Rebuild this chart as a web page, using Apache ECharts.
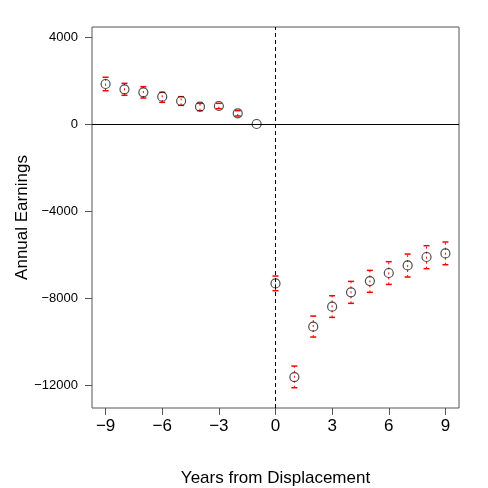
<!DOCTYPE html>
<html>
  <head>
    <meta charset="utf-8" />
    <title>Event study</title>
    <script src="https://cdn.jsdelivr.net/npm/echarts/dist/echarts.min.js"></script>
    <style>
      html, body { margin: 0; padding: 0; background: #fff; }
    </style>
  </head>
  <body>
    <div id="main" style="width: 488px; height: 488px;"></div>

    <script type="text/javascript">
      var myChart = echarts.init(document.getElementById('main'));

      // years relative to displacement
      const years = [-9, -8, -7, -6, -5, -4, -3, -2, -1, 0, 1, 2, 3, 4, 5, 6, 7, 8, 9];
      // point estimates
      const estimates = [1840, 1595, 1457, 1257, 1057, 797, 828, 490, 0,
        -7330, -11635, -9320, -8400, -7740, -7220, -6850, -6500, -6115, -5950];
      // confidence interval bounds
      const upper = [2150, 1870, 1717, 1457, 1257, 950, 950, 613, 0,
        -6990, -11130, -8830, -7895, -7235, -6730, -6330, -5980, -5595, -5425];
      const lower = [1530, 1320, 1195, 997, 858, 613, 705, 368, 0,
        -7665, -12125, -9795, -8890, -8245, -7740, -7375, -7035, -6650, -6470];

      const xTicks = [-9, -6, -3, 0, 3, 6, 9];
      const yTicks = [-12000, -8000, -4000, 0, 4000];

      const font = '"Liberation Sans", Arial, Helvetica, sans-serif';
      const minus = v => String(v).replace('-', '\u2212');

      const ciData = years.map((x, i) => [x, lower[i], upper[i]]);
      const pointData = years.map((x, i) => [x, estimates[i]]);

      function renderBar(params, api) {
        const x = api.value(0);
        const lo = api.value(1);
        const hi = api.value(2);
        if (lo === hi) return null;
        const pLo = api.coord([x, lo]);
        const pHi = api.coord([x, hi]);
        const w = 3;
        const red = { stroke: '#ff0000', lineWidth: 1.5 };
        return {
          type: 'group',
          children: [
            { type: 'line', shape: { x1: pLo[0], y1: pLo[1], x2: pHi[0], y2: pHi[1] },
              style: { stroke: '#ff0000', lineWidth: 1, lineDash: [2, 3] } },
            { type: 'line', shape: { x1: pLo[0] - w, y1: pLo[1], x2: pLo[0] + w, y2: pLo[1] }, style: red },
            { type: 'line', shape: { x1: pHi[0] - w, y1: pHi[1], x2: pHi[0] + w, y2: pHi[1] }, style: red }
          ]
        };
      }

      const option = {
        animation: false,
        backgroundColor: '#fff',
        textStyle: { fontFamily: font },
        grid: {
          left: 92, right: 29, top: 27, bottom: 80,
          outerBoundsMode: 'none', containLabel: false,
          show: true, borderColor: '#555', borderWidth: 1, backgroundColor: 'transparent'
        },
        xAxis: {
          type: 'value',
          min: -9.72, max: 9.72,
          name: 'Years from Displacement',
          nameLocation: 'middle',
          nameGap: 62,
          nameTextStyle: { fontSize: 17, color: '#000', fontFamily: font },
          axisLine: { show: false, onZero: false },
          splitLine: { show: false },
          axisTick: { show: true, length: 7, lineStyle: { color: '#555' }, customValues: xTicks },
          axisLabel: {
            fontSize: 17, color: '#000', margin: 10, fontFamily: font,
            customValues: xTicks, formatter: minus
          }
        },
        yAxis: {
          type: 'value',
          min: -13057, max: 4460,
          name: 'Annual Earnings',
          nameLocation: 'middle',
          nameGap: 61,
          nameMoveOverlap: false,
          nameTextStyle: { fontSize: 17, color: '#000', fontFamily: font },
          axisLine: { show: false, onZero: false },
          splitLine: { show: false },
          axisTick: { show: true, length: 7, lineStyle: { color: '#555' }, customValues: yTicks },
          axisLabel: {
            fontSize: 13, color: '#000', margin: 14, fontFamily: font,
            customValues: yTicks, formatter: minus
          }
        },
        series: [
          {
            type: 'custom',
            renderItem: renderBar,
            data: ciData,
            z: 3,
            markLine: {
              silent: true,
              symbol: 'none',
              label: { show: false },
              data: [
                { yAxis: 0, lineStyle: { color: '#000', width: 1.2, type: 'solid' } },
                { xAxis: 0, lineStyle: { color: '#000', width: 1, type: [4, 3] } }
              ]
            }
          },
          {
            type: 'scatter',
            data: pointData,
            symbol: 'circle',
            symbolSize: 9,
            z: 4,
            itemStyle: { color: 'rgba(0,0,0,0)', borderColor: '#222', borderWidth: 1.2 }
          }
        ]
      };

      myChart.setOption(option);
    </script>
  </body>
</html>
